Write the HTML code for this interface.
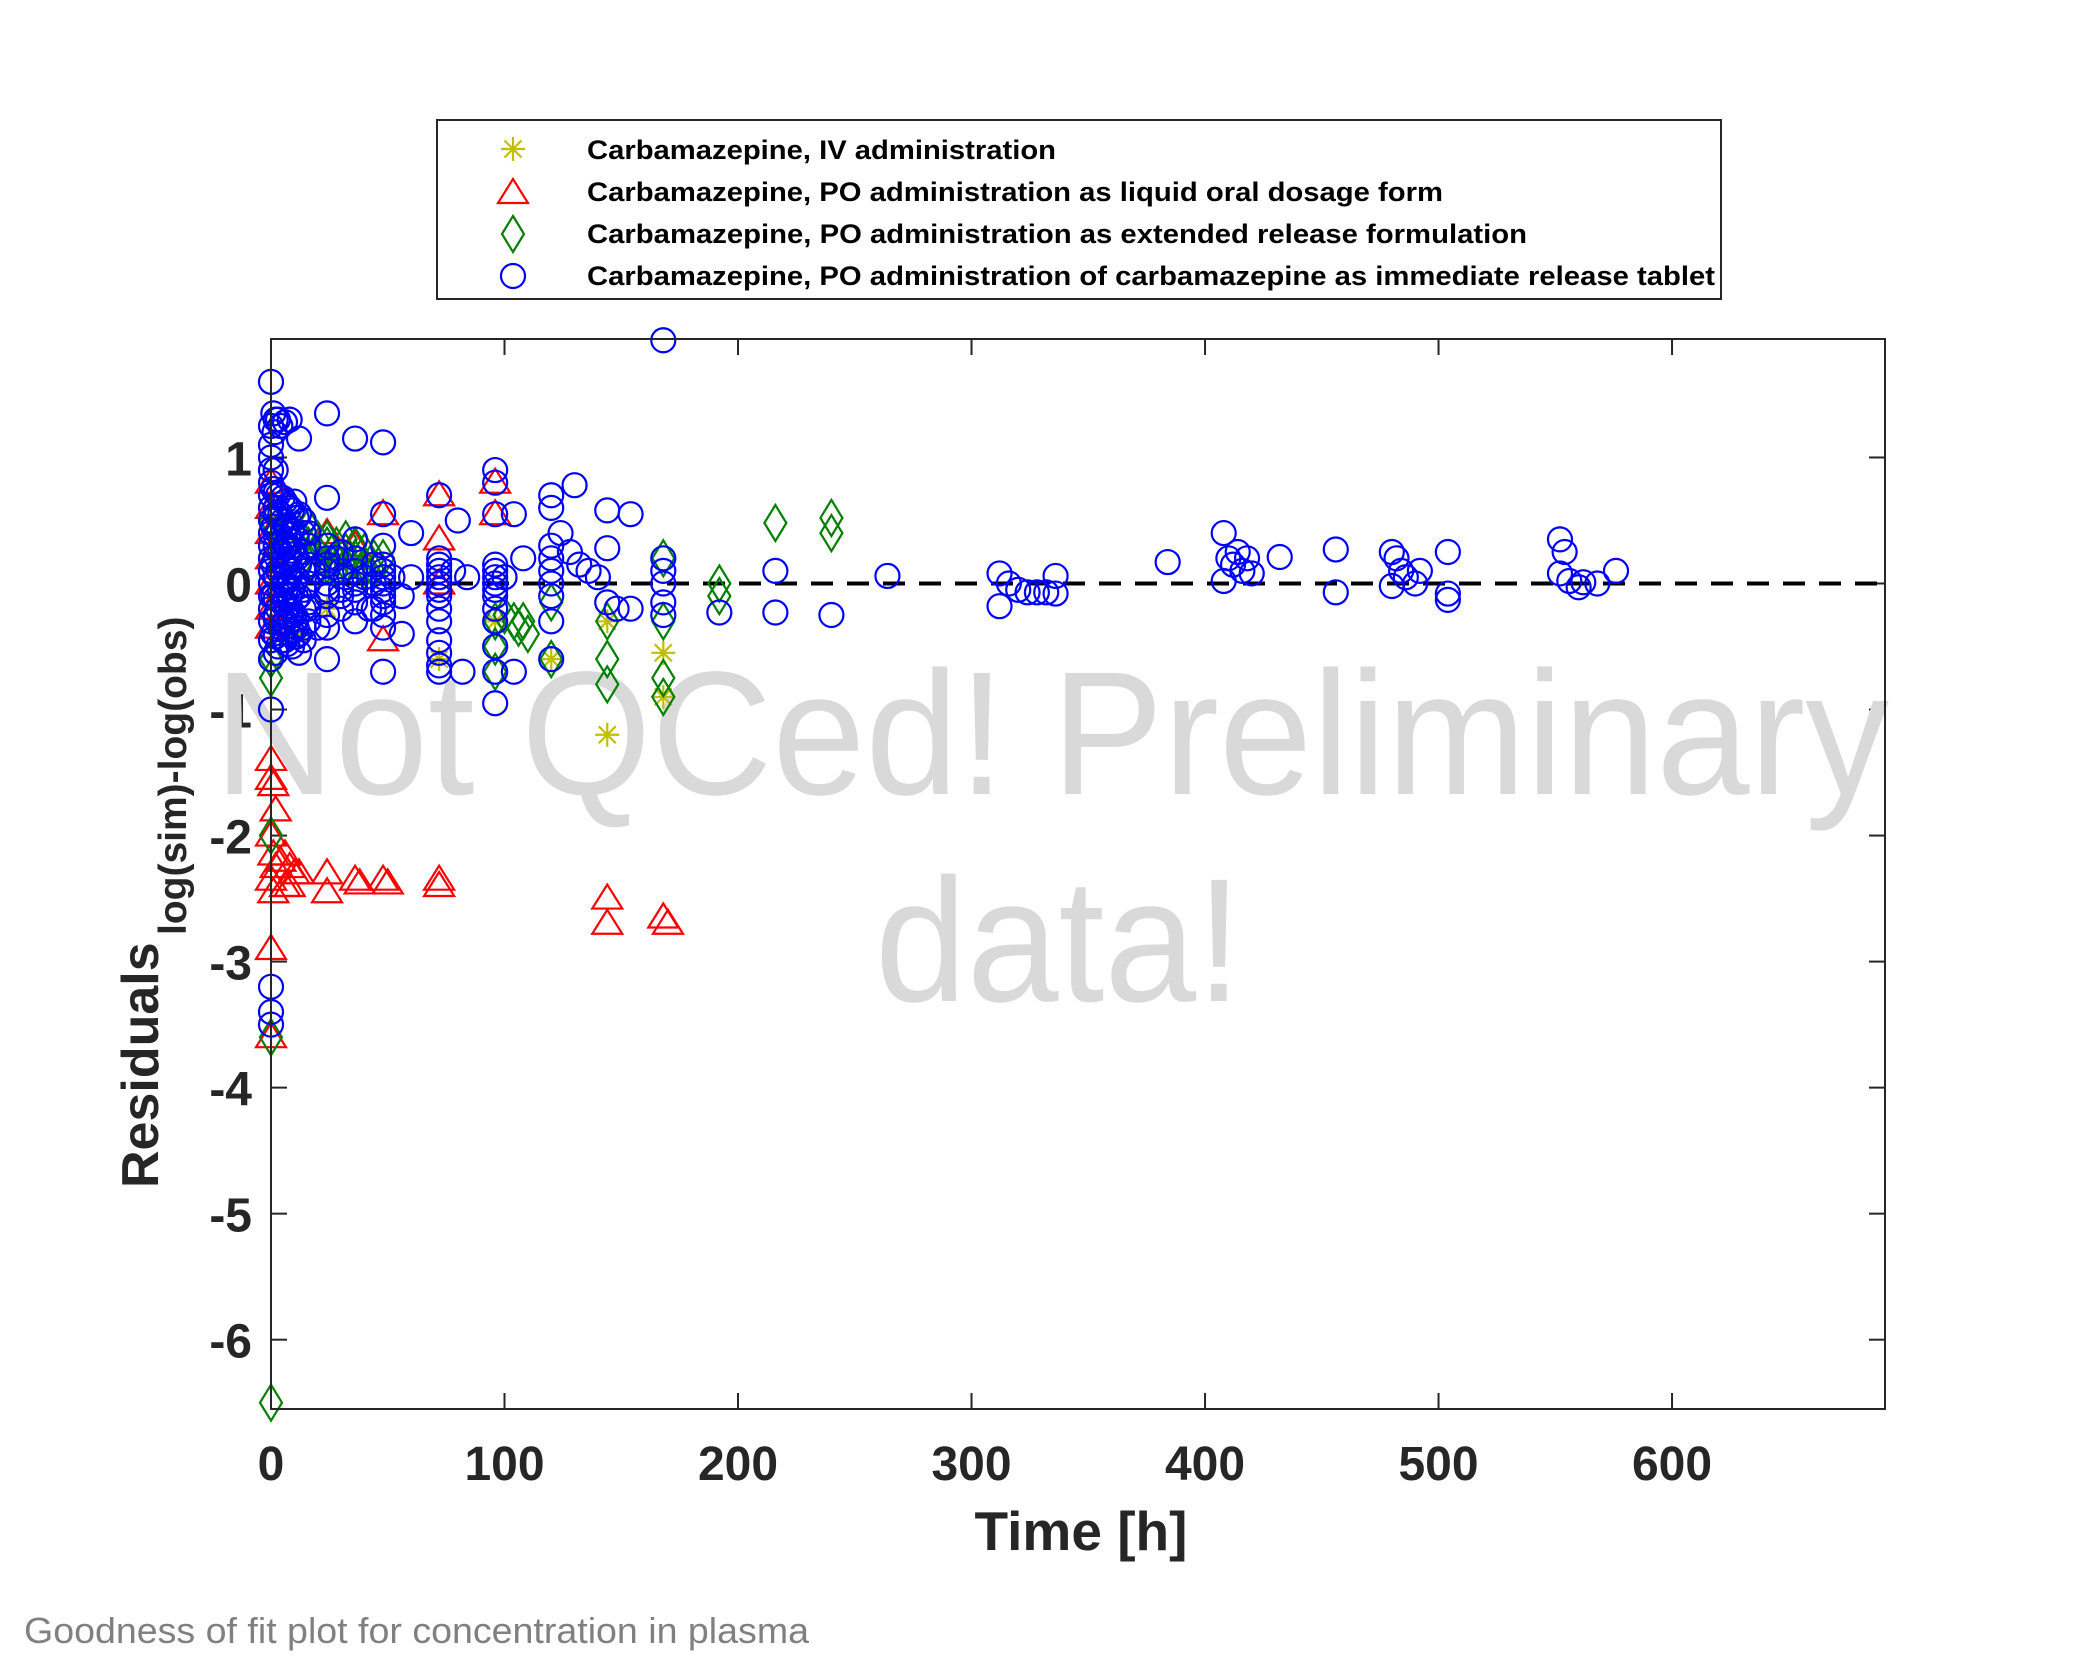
<!DOCTYPE html>
<html><head><meta charset="utf-8"><title>Goodness of fit</title>
<style>html,body{margin:0;padding:0;background:#fff}svg{display:block;font-family:"Liberation Sans",Arial,sans-serif}</style>
</head><body>
<svg id="chart" width="2083" height="1667" viewBox="0 0 2083 1667" xmlns="http://www.w3.org/2000/svg">
<rect x="0" y="0" width="2083" height="1667" fill="#fff"/>
<g id="axes"></g>
<g fill="#d9d9d9" font-size="176">
<text x="214" y="794" textLength="1675" lengthAdjust="spacingAndGlyphs">Not QCed! Preliminary</text>
<text x="875" y="1001" textLength="367" lengthAdjust="spacingAndGlyphs">data!</text>
</g>
<g id="zero"></g>
<g id="marks"></g>
<rect x="271" y="339" width="1614" height="1070" fill="none" stroke="#262626" stroke-width="2"/>
<g>
<rect x="437" y="120" width="1284" height="179" fill="#fff" stroke="#262626" stroke-width="2"/>
<g id="legend-marks"></g>
<g font-weight="bold" font-size="27" fill="#000">
<text x="587" y="159" textLength="469" lengthAdjust="spacingAndGlyphs">Carbamazepine, IV administration</text>
<text x="587" y="201" textLength="856" lengthAdjust="spacingAndGlyphs">Carbamazepine, PO administration as liquid oral dosage form</text>
<text x="587" y="243" textLength="940" lengthAdjust="spacingAndGlyphs">Carbamazepine, PO administration as extended release formulation</text>
<text x="587" y="285" textLength="1128" lengthAdjust="spacingAndGlyphs">Carbamazepine, PO administration of carbamazepine as immediate release tablet</text>
</g>
</g>
<text x="1081" y="1550" text-anchor="middle" font-weight="bold" font-size="55" fill="#262626">Time [h]</text>
<text transform="translate(158,1188) rotate(-90)" font-weight="bold" font-size="52" fill="#262626">Residuals</text>
<text transform="translate(186,935) rotate(-90)" font-weight="bold" font-size="39" fill="#262626">log(sim)-log(obs)</text>
<text x="24" y="1643" font-size="36" fill="#808080" textLength="785" lengthAdjust="spacingAndGlyphs">Goodness of fit plot for concentration in plasma</text>
</svg>
<script>
const xTicks = [0,100,200,300,400,500,600];
const yTicks = [1,0,-1,-2,-3,-4,-5,-6];
const xDomain = [0,691.2];
const yDomain = [-6.55,1.94];
const ivTime = [144,144,168,168,24,12,72,96,120];
const ivRes = [-0.3,-1.2,-0.55,-0.9,-0.2,-0.4,-0.6,-0.3,-0.6];
const liqTime = [0,0,0,0,0,0,0,0,0,1,2,0,1,2,0,1,4,6,8,10,12,6,8,0,0,24,24,36,38,48,50,72,72,144,144,168,170,72,72,96,96,48,48,24,36,72];
const liqRes = [0.8,0.6,0.4,0.2,0,-0.2,-0.35,-1.4,-1.55,-1.6,-1.8,-2.0,-2.15,-2.25,-2.35,-2.45,-2.2,-2.15,-2.25,-2.3,-2.3,-2.4,-2.4,-2.9,-3.6,-2.3,-2.45,-2.35,-2.38,-2.35,-2.38,-2.35,-2.4,-2.5,-2.7,-2.65,-2.7,0.7,0.35,0.8,0.55,0.55,-0.45,0.4,0.3,0.0];
const erTime = [0,2,4,8,12,16,20,24,24,28,32,36,40,44,48,0,0,0,0,0,96,96,96,100,104,106,108,110,120,120,144,144,144,168,168,168,168,192,192,216,240,240,
16,16,20,20,24,28,28,32,32,36,40,40,44];
const erRes = [0.5,0.4,0.3,0.25,0.4,0.45,0.35,0.3,0.15,0.3,0.25,0.2,0.15,0.1,0.2,-0.6,-0.75,-2.0,-3.6,-6.5,-0.3,-0.5,-0.7,-0.25,-0.3,-0.35,-0.3,-0.4,-0.15,-0.6,-0.3,-0.6,-0.8,0.2,-0.3,-0.75,-0.9,0.0,-0.1,0.48,0.52,0.4,
0.3,0.15,0.25,0.1,0.35,0.2,0.1,0.35,0.15,0.3,0.25,0.1,0.2];
const irTime = [0,0,0,0,0,0,0,0,0,0,0,0,0,0,0,0,0,0,0,0,0,0,0,
1,1.5,2,2,1,2,1,2,1,2,1,2,1,2,
3,4,3,4,3,4,3,4,3,4,3,
6,6,6,6,6,6,6,6,6,
8,8,8,8,8,8,8,8,
12,10,12,10,12,10,12,10,12,12,
16,18,16,20,24,24,24,24,24,24,24,24,24,28,30,32,36,36,36,36,36,40,42,
48,48,48,48,48,48,48,48,48,48,52,56,56,60,60,
72,72,72,72,72,72,72,72,72,72,72,72,72,72,78,80,82,84,
96,96,96,96,96,96,96,96,96,96,96,96,96,96,100,104,108,104,
120,120,120,120,120,120,120,120,120,124,128,130,132,136,140,144,144,144,148,154,154,
168,168,168,168,168,168,192,216,216,240,264,
312,312,316,320,324,328,332,336,336,384,408,410,412,414,416,418,420,408,432,456,456,480,482,484,486,490,480,492,504,504,504,552,554,552,556,560,562,568,576,
2,2,2,2,2,2,2,2,5,5,5,5,5,5,5,5,7,7,7,7,7,7,7,7,9,9,9,9,9,9,9,9,11,11,11,11,11,11,11,11,14,14,14,14,14,14,14,14,16,16,16,16,16,
24,24,24,30,30,30,30,36,36,36,48,48,48,44,44,44];
const irRes = [1.6,1.25,1.1,1.0,0.9,0.8,0.7,0.6,0.5,0.4,0.3,0.2,0.1,0,-0.1,-0.2,-0.3,-0.45,-0.6,-1.0,-3.2,-3.4,-3.5,
1.35,1.2,1.3,0.9,0.75,0.6,0.45,0.3,0.15,0.05,-0.1,-0.25,-0.4,-0.55,
1.3,1.25,0.7,0.55,0.4,0.25,0.1,-0.05,-0.2,-0.35,-0.5,
1.28,0.65,0.45,0.3,0.15,0,-0.15,-0.3,-0.45,
1.3,0.6,0.35,0.2,0.05,-0.1,-0.25,-0.4,
1.15,0.65,0.55,0.3,0.15,0,-0.1,-0.25,-0.4,-0.55,
0.4,0.1,-0.2,-0.35,1.35,0.68,0.3,0.2,0.1,0,-0.1,-0.25,-0.6,0.2,-0.1,0.05,1.15,0.35,0.1,-0.05,-0.3,0.05,-0.2,
1.12,0.55,0.15,0.1,0.05,0,-0.05,-0.15,-0.25,-0.7,0.05,-0.1,-0.4,0.05,0.4,
0.7,0.2,0.15,0.1,0.05,0,-0.05,-0.1,-0.2,-0.3,-0.45,-0.55,-0.65,-0.7,0.1,0.5,-0.7,0.05,
0.9,0.8,0.55,0.15,0.1,0.05,0,-0.05,-0.1,-0.2,-0.3,-0.5,-0.7,-0.95,0.05,0.55,0.2,-0.7,
0.7,0.6,0.3,0.2,0.1,0,-0.1,-0.3,-0.6,0.4,0.25,0.78,0.15,0.1,0.05,0.58,0.28,-0.15,-0.2,0.55,-0.2,
1.93,0.2,0.1,0.0,-0.15,-0.25,-0.23,0.1,-0.23,-0.25,0.06,
0.08,-0.18,0.0,-0.05,-0.07,-0.07,-0.07,0.06,-0.08,0.17,0.4,0.2,0.15,0.25,0.1,0.2,0.08,0.02,0.21,0.27,-0.07,0.25,0.2,0.1,0.05,0.0,-0.02,0.1,0.25,-0.08,-0.13,0.35,0.25,0.08,0.02,-0.03,0.01,0.0,0.1,
0.72,0.55,0.38,0.22,0.05,-0.12,-0.28,-0.42,0.68,0.5,0.33,0.17,0.0,-0.16,-0.32,-0.45,0.62,0.46,0.3,0.14,-0.02,-0.18,-0.34,-0.48,0.58,0.42,0.26,0.1,-0.06,-0.22,-0.38,-0.5,0.52,0.36,0.2,0.04,-0.12,-0.28,-0.42,-0.35,0.4,0.25,0.1,-0.05,-0.2,-0.35,0.5,-0.45,0.3,0.15,0.0,-0.15,-0.3,
0.15,-0.05,-0.35,0.25,0.1,-0.05,-0.2,0.2,0.0,-0.15,0.3,-0.1,-0.35,0.15,0.0,-0.2];

const NS = "http://www.w3.org/2000/svg";
const L = 271, R = 1885, T = 339, B = 1409;
function sx(t){ return L + (t - xDomain[0]) / (xDomain[1] - xDomain[0]) * (R - L); }
function sy(v){ return B - (v - yDomain[0]) / (yDomain[1] - yDomain[0]) * (B - T); }
function mk(tag, attrs, parent){
  const e = document.createElementNS(NS, tag);
  for (const k in attrs) e.setAttribute(k, attrs[k]);
  parent.appendChild(e); return e;
}
const axes = document.getElementById('axes');
const marks = document.getElementById('marks');
const zero = document.getElementById('zero');

xTicks.forEach(function(t){
  const x = sx(t);
  const a = mk('line', {x1:x, y1:B, x2:x, y2:B-16, stroke:'#262626', 'stroke-width':2}, axes);
  
  
  const b = mk('line', {x1:x, y1:T, x2:x, y2:T+16, stroke:'#262626', 'stroke-width':2}, axes);
  
  
  const l = mk('text', {x:x, y:1480, 'text-anchor':'middle', 'font-weight':'bold', 'font-size':48, fill:'#262626'}, axes);
  l.textContent = String(t);
  
  
});
yTicks.forEach(function(v){
  const y = sy(v);
  const a = mk('line', {x1:L, y1:y, x2:L+16, y2:y, stroke:'#262626', 'stroke-width':2}, axes);
  
  
  const b = mk('line', {x1:R, y1:y, x2:R-16, y2:y, stroke:'#262626', 'stroke-width':2}, axes);
  
  
  const l = mk('text', {x:252, y:y+18, 'text-anchor':'end', 'font-weight':'bold', 'font-size':48, fill:'#262626'}, axes);
  l.textContent = String(v);
  
  
});
const zl = mk('line', {x1:L, y1:sy(0), x2:R, y2:sy(0), stroke:'#000', 'stroke-width':4, 'stroke-dasharray':'22 14'}, zero);



function circle(x, y, p){ return mk('circle', {cx:x, cy:y, r:12, fill:'none', stroke:'#0000ff', 'stroke-width':2.2}, p); }
function tri(x, y, p){ return mk('polygon', {points:(x-15)+','+(y+10)+' '+(x+15)+','+(y+10)+' '+x+','+(y-14), fill:'none', stroke:'#ff0000', 'stroke-width':2.2}, p); }
function diamond(x, y, p){ return mk('polygon', {points:x+','+(y-18)+' '+(x+11)+','+y+' '+x+','+(y+18)+' '+(x-11)+','+y, fill:'none', stroke:'#008000', 'stroke-width':2.2}, p); }
function star(x, y, p){
  const d = 'M'+(x-12)+' '+y+'H'+(x+12)+'M'+x+' '+(y-12)+'V'+(y+12)+'M'+(x-8.5)+' '+(y-8.5)+'L'+(x+8.5)+' '+(y+8.5)+'M'+(x-8.5)+' '+(y+8.5)+'L'+(x+8.5)+' '+(y-8.5);
  return mk('path', {d:d, fill:'none', stroke:'#bfbf00', 'stroke-width':2.2}, p);
}
ivTime.forEach(function(t, i){
  const e = star(sx(t), sy(ivRes[i]), marks);
  
  
});
liqTime.forEach(function(t, i){
  const e = tri(sx(t), sy(liqRes[i]), marks);
  
  
});
erTime.forEach(function(t, i){
  const e = diamond(sx(t), sy(erRes[i]), marks);
  
  
});
irTime.forEach(function(t, i){
  const e = circle(sx(t), sy(irRes[i]), marks);
  
  
});
const lg = document.getElementById('legend-marks');
const m1 = star(513, 149, lg);


const m2 = tri(513, 193, lg);


const m3 = diamond(513, 234, lg);


const m4 = circle(513, 276, lg);


</script>
</body></html>
